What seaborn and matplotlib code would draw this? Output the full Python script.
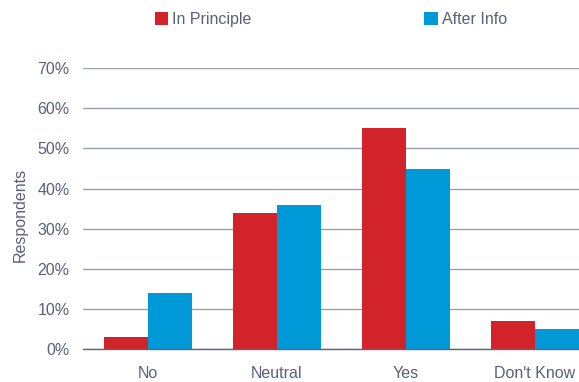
import pandas as pd
import seaborn as sns
import matplotlib.pyplot as plt
from matplotlib.ticker import PercentFormatter, FixedLocator

categories = ["No", "Neutral", "Yes", "Don't Know"]
in_principle = [0.03, 0.34, 0.55, 0.07]
after_info = [0.14, 0.36, 0.45, 0.05]
series_names = ["In Principle", "After Info"]
colors = ["#D2222A", "#0099D8"]

text_color = "#596079"
axis_color = "#5F667C"
grid_color = "#9A9FB0"

df = pd.DataFrame({
    "category": categories * 2,
    "value": in_principle + after_info,
    "series": [series_names[0]] * 4 + [series_names[1]] * 4,
})

sns.set_style("white")
plt.rcParams["font.family"] = ["Liberation Sans", "DejaVu Sans"]

fig = plt.figure(figsize=(5.79, 3.82), dpi=100)
# the chart is cut off on the right in the reference, so the axes run past the figure edge
ax = fig.add_axes([0.1442, 0.0864, 0.891, 0.7348])

sns.barplot(data=df, x="category", y="value", hue="series",
            palette=colors, width=0.68, saturation=1, linewidth=0, ax=ax)

handles, labels = ax.get_legend_handles_labels()
ax.get_legend().remove()

ax.set_ylim(0, 0.70)
ax.set_xlim(-0.5, 3.5)
ax.set_yticks([i / 10 for i in range(8)])
ax.yaxis.set_major_formatter(PercentFormatter(1.0, decimals=0))
ax.yaxis.grid(True, color=grid_color, linewidth=1.0)
ax.set_axisbelow(True)

for side in ["top", "right", "left"]:
    ax.spines[side].set_visible(False)
ax.spines["bottom"].set_color(axis_color)
ax.spines["bottom"].set_linewidth(1.0)

ax.tick_params(axis="x", which="major", length=0, pad=12,
               labelsize=11.5, labelcolor=text_color)
ax.xaxis.set_minor_locator(FixedLocator([-0.5, 1.5, 3.5]))
ax.tick_params(axis="x", which="minor", length=4.5, width=1.0, color=axis_color)
ax.tick_params(axis="y", length=0, pad=10, labelsize=11.5, labelcolor=text_color)

ax.set_xlabel("")
ax.set_ylabel("")
fig.text(20 / 579, 1 - 215 / 382, "Respondents", rotation=90,
         ha="center", va="center", fontsize=11.5, color=text_color)

for h in handles:
    h.set_linewidth(0)

fig.legend(handles, labels, loc="center", bbox_to_anchor=(0.571, 0.949),
           ncol=2, frameon=False, fontsize=11.5, labelcolor=text_color,
           handlelength=0.85, handleheight=0.85, handletextpad=0.25,
           columnspacing=10.8)

fig.savefig("out.png", dpi=100)
